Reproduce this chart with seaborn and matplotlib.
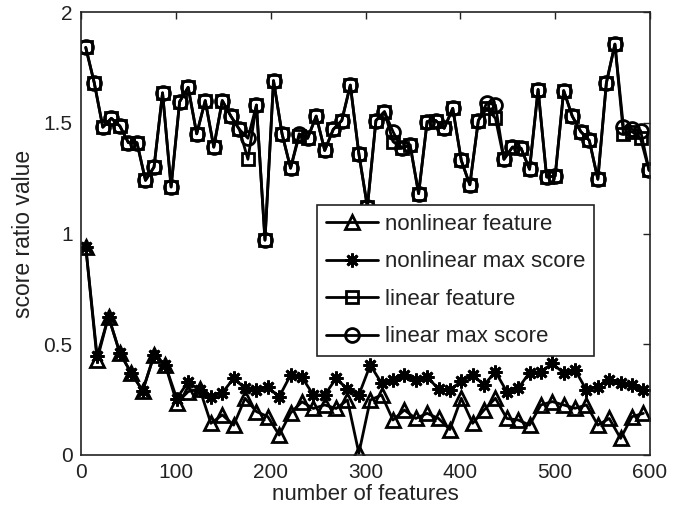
import matplotlib
matplotlib.use("Agg")
import matplotlib.pyplot as plt
import seaborn as sns
import pandas as pd

# ---- data ----
x_linear = list(range(5, 600, 9))       # 67 sample positions
x_nonlinear = list(range(5, 600, 12))   # 50 sample positions

linear_max = [1.84, 1.68, 1.48, 1.52, 1.485, 1.41, 1.41, 1.24, 1.30, 1.635,
              1.21, 1.595, 1.66, 1.45, 1.60, 1.39, 1.60, 1.53, 1.47, 1.43,
              1.58, 0.97, 1.69, 1.45, 1.295, 1.45, 1.43, 1.53, 1.375, 1.47,
              1.51, 1.67, 1.36, 1.12, 1.51, 1.55, 1.46, 1.385, 1.40, 1.18,
              1.505, 1.51, 1.475, 1.565, 1.33, 1.22, 1.51, 1.59, 1.58, 1.335,
              1.39, 1.385, 1.29, 1.65, 1.255, 1.26, 1.645, 1.53, 1.46, 1.42,
              1.245, 1.68, 1.855, 1.48, 1.47, 1.465, 1.285]

linear_feat = [1.84, 1.68, 1.48, 1.52, 1.485, 1.41, 1.41, 1.24, 1.30, 1.635,
               1.21, 1.595, 1.66, 1.45, 1.60, 1.39, 1.60, 1.53, 1.47, 1.335,
               1.58, 0.97, 1.69, 1.45, 1.295, 1.44, 1.43, 1.53, 1.375, 1.47,
               1.51, 1.67, 1.36, 1.12, 1.51, 1.55, 1.415, 1.385, 1.40, 1.18,
               1.505, 1.51, 1.475, 1.565, 1.33, 1.22, 1.51, 1.565, 1.52, 1.335,
               1.39, 1.385, 1.29, 1.65, 1.255, 1.26, 1.645, 1.53, 1.46, 1.42,
               1.245, 1.68, 1.855, 1.45, 1.46, 1.43, 1.285]

nonlinear_feat = [0.94, 0.43, 0.625, 0.46, 0.37, 0.29, 0.45, 0.405, 0.235, 0.286,
                  0.30, 0.143, 0.181, 0.135, 0.256, 0.196, 0.173, 0.09, 0.19, 0.24,
                  0.21, 0.226, 0.21, 0.248, 0.008, 0.248, 0.271, 0.158, 0.203, 0.165,
                  0.188, 0.165, 0.115, 0.256, 0.143, 0.203, 0.256, 0.165, 0.158, 0.135,
                  0.226, 0.241, 0.226, 0.211, 0.226, 0.135, 0.165, 0.075, 0.173, 0.188]

nonlinear_max = [0.94, 0.445, 0.625, 0.46, 0.37, 0.29, 0.45, 0.405, 0.255, 0.331,
                 0.293, 0.263, 0.281, 0.346, 0.301, 0.293, 0.306, 0.263, 0.361, 0.351,
                 0.271, 0.271, 0.346, 0.297, 0.271, 0.406, 0.324, 0.339, 0.361, 0.339,
                 0.354, 0.297, 0.293, 0.333, 0.361, 0.316, 0.376, 0.286, 0.301, 0.372,
                 0.376, 0.414, 0.369, 0.384, 0.293, 0.309, 0.339, 0.324, 0.316, 0.293]

series_labels = ["nonlinear feature", "nonlinear max score", "linear feature", "linear max score"]
x_ticks = [0, 100, 200, 300, 400, 500, 600]
y_ticks = [0, 0.5, 1, 1.5, 2]
y_ticklabels = ["0", "0.5", "1", "1.5", "2"]

# ---- style ----
sns.set_style("white")
plt.rcParams["font.family"] = ["Liberation Sans", "DejaVu Sans"]
plt.rcParams["font.size"] = 15

fig = plt.figure(figsize=(6.88, 5.21), dpi=100)
ax = fig.add_axes([81 / 688, 1 - 455 / 521, (650 - 81) / 688, (455 - 12) / 521])

specs = [
    (x_nonlinear, nonlinear_feat, "^", 10),
    (x_nonlinear, nonlinear_max, (8, 2, 0), 10),
    (x_linear, linear_feat, "s", 9),
    (x_linear, linear_max, "o", 10),
]
for (xs, ys, mk, ms), lab in zip(specs, series_labels):
    df = pd.DataFrame({"x": xs, "y": ys})
    sns.lineplot(data=df, x="x", y="y", ax=ax, color="black", linewidth=2.0,
                 marker=mk, markersize=ms, markerfacecolor="none",
                 markeredgecolor="black", markeredgewidth=2.0, label=lab,
                 errorbar=None, sort=False)

ax.set_xlim(0, 600)
ax.set_ylim(0, 2)
ax.set_xticks(x_ticks)
ax.set_yticks(y_ticks)
ax.set_yticklabels(y_ticklabels)
ax.set_xlabel("number of features", fontsize=16, color="#222222", labelpad=1)
ax.set_ylabel("score ratio value", fontsize=16.5, color="#222222", labelpad=6)
ax.tick_params(direction="in", top=True, right=True, length=5, width=1,
               labelsize=15, colors="#222222", pad=6)
for sp in ax.spines.values():
    sp.set_visible(True)
    sp.set_color("#222222")
    sp.set_linewidth(1.2)

leg = ax.legend(loc="upper left", bbox_to_anchor=(0.415, 0.564), frameon=True,
                fancybox=False, framealpha=1, edgecolor="#222222", fontsize=16,
                handlelength=2.35, numpoints=1, borderaxespad=0, borderpad=0.4,
                labelspacing=0.74, handletextpad=0.3)
leg.get_frame().set_linewidth(1.2)
for t in leg.get_texts():
    t.set_color("#222222")

fig.savefig("out.png", dpi=100)
